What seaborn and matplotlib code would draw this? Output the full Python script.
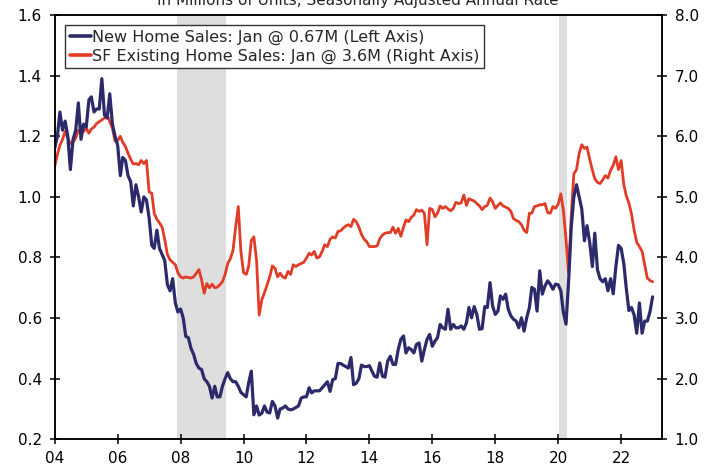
import numpy as np
import pandas as pd
import seaborn as sns
import matplotlib.pyplot as plt
import matplotlib.dates as mdates
from matplotlib.ticker import FormatStrFormatter
from matplotlib.lines import Line2D

# Monthly data, Jan 2004 - Jan 2023 (millions, SAAR)
new_home_sales = [
    1.16, 1.20, 1.28, 1.22, 1.25, 1.20, 1.09, 1.19, 1.22, 1.31, 1.19, 1.24,  # 2004
    1.23, 1.32, 1.33, 1.28, 1.29, 1.29, 1.39, 1.27, 1.26, 1.34, 1.24, 1.20,  # 2005
    1.17, 1.07, 1.13, 1.12, 1.07, 1.05, 0.97, 1.04, 1.00, 0.95, 1.00, 0.99,  # 2006
    0.93, 0.84, 0.83, 0.89, 0.83, 0.81, 0.79, 0.71, 0.69, 0.73, 0.65, 0.62,  # 2007
    0.63, 0.60, 0.54, 0.535, 0.50, 0.48, 0.45, 0.435, 0.43, 0.40, 0.39, 0.375,  # 2008
    0.336, 0.375, 0.34, 0.34, 0.375, 0.40, 0.42, 0.40, 0.39, 0.39, 0.375, 0.355,  # 2009
    0.347, 0.34, 0.386, 0.425, 0.281, 0.31, 0.28, 0.286, 0.31, 0.29, 0.287, 0.325,  # 2010
    0.31, 0.27, 0.30, 0.303, 0.31, 0.30, 0.297, 0.30, 0.305, 0.31, 0.336, 0.34,  # 2011
    0.34, 0.37, 0.353, 0.36, 0.36, 0.36, 0.37, 0.38, 0.39, 0.358, 0.397, 0.40,  # 2012
    0.45, 0.45, 0.445, 0.44, 0.435, 0.47, 0.38, 0.385, 0.40, 0.445, 0.44, 0.44,  # 2013
    0.443, 0.424, 0.408, 0.405, 0.452, 0.408, 0.405, 0.458, 0.474, 0.447, 0.447, 0.496,  # 2014
    0.53, 0.541, 0.485, 0.502, 0.496, 0.485, 0.513, 0.518, 0.458, 0.496, 0.53, 0.546,  # 2015
    0.507, 0.524, 0.535, 0.579, 0.568, 0.563, 0.629, 0.563, 0.579, 0.568, 0.568, 0.574,  # 2016
    0.563, 0.585, 0.635, 0.601, 0.638, 0.612, 0.563, 0.565, 0.638, 0.635, 0.717, 0.64,  # 2017
    0.612, 0.623, 0.673, 0.662, 0.679, 0.629, 0.607, 0.596, 0.59, 0.568, 0.601, 0.557,  # 2018
    0.601, 0.635, 0.701, 0.695, 0.623, 0.756, 0.679, 0.706, 0.723, 0.712, 0.695, 0.712,  # 2019
    0.71, 0.69, 0.62, 0.58, 0.72, 0.90, 1.00, 1.04, 1.00, 0.96, 0.855, 0.905,  # 2020
    0.85, 0.77, 0.88, 0.76, 0.73, 0.72, 0.73, 0.69, 0.73, 0.68, 0.77, 0.84,  # 2021
    0.83, 0.78, 0.70, 0.625, 0.635, 0.61, 0.55, 0.65, 0.55, 0.59, 0.59, 0.62,  # 2022
    0.67,  # 2023
]

sf_existing_sales = [
    5.50, 5.70, 5.85, 5.95, 6.08, 5.97, 5.88, 5.90, 5.97, 6.10, 6.08, 6.08,  # 2004
    6.13, 6.05, 6.12, 6.15, 6.21, 6.24, 6.27, 6.30, 6.35, 6.24, 6.13, 5.92,  # 2005
    5.93, 6.00, 5.90, 5.83, 5.72, 5.62, 5.54, 5.55, 5.53, 5.60, 5.55, 5.60,  # 2006
    5.08, 5.06, 4.73, 4.63, 4.57, 4.50, 4.30, 4.05, 3.96, 3.92, 3.88, 3.75,  # 2007
    3.68, 3.66, 3.68, 3.67, 3.66, 3.68, 3.74, 3.80, 3.63, 3.41, 3.57, 3.50,  # 2008
    3.56, 3.50, 3.51, 3.55, 3.60, 3.72, 3.90, 3.98, 4.12, 4.50, 4.84, 4.10,  # 2009
    3.75, 3.72, 3.85, 4.28, 4.34, 3.95, 3.05, 3.30, 3.42, 3.55, 3.68, 3.86,  # 2010
    3.82, 3.68, 3.74, 3.68, 3.66, 3.77, 3.72, 3.88, 3.85, 3.88, 3.90, 3.92,  # 2011
    3.99, 4.07, 4.04, 4.10, 3.99, 4.01, 4.10, 4.21, 4.18, 4.30, 4.34, 4.32,  # 2012
    4.43, 4.44, 4.48, 4.52, 4.54, 4.51, 4.63, 4.59, 4.50, 4.38, 4.30, 4.26,  # 2013
    4.18, 4.18, 4.18, 4.19, 4.31, 4.37, 4.40, 4.41, 4.41, 4.50, 4.40, 4.48,  # 2014
    4.35, 4.50, 4.62, 4.59, 4.66, 4.70, 4.79, 4.76, 4.78, 4.73, 4.21, 4.81,  # 2015
    4.79, 4.67, 4.73, 4.85, 4.81, 4.84, 4.80, 4.77, 4.81, 4.91, 4.89, 4.90,  # 2016
    5.03, 4.86, 4.97, 4.95, 4.93, 4.89, 4.85, 4.79, 4.84, 4.86, 4.98, 4.92,  # 2017
    4.81, 4.86, 4.90, 4.85, 4.83, 4.81, 4.76, 4.64, 4.61, 4.59, 4.54, 4.45,  # 2018
    4.41, 4.73, 4.73, 4.84, 4.85, 4.87, 4.87, 4.89, 4.74, 4.73, 4.84, 4.81,  # 2019
    4.88, 5.05, 4.78, 4.30, 3.74, 4.70, 5.38, 5.45, 5.72, 5.86, 5.80, 5.82,  # 2020
    5.62, 5.44, 5.30, 5.24, 5.22, 5.28, 5.35, 5.31, 5.44, 5.52, 5.66, 5.45,  # 2021
    5.60, 5.20, 5.02, 4.90, 4.72, 4.45, 4.25, 4.18, 4.10, 3.88, 3.66, 3.62,  # 2022
    3.60,  # 2023
]

recessions = [("2007-11-17", "2009-06-10"), ("2020-01-12", "2020-04-08")]

new_label = "New Home Sales: Jan @ 0.67M (Left Axis)"
sf_label = "SF Existing Home Sales: Jan @ 3.6M (Right Axis)"
subtitle = "In Millions of Units, Seasonally Adjusted Annual Rate"

blue = "#2c2a6b"
red = "#e03c26"

dates = pd.date_range("2004-01-01", periods=len(new_home_sales), freq="MS")
df = pd.DataFrame({"date": dates, "new": new_home_sales, "existing": sf_existing_sales})

sns.set_style("ticks")
plt.rcParams["font.family"] = ["DejaVu Sans"]

fig = plt.figure(figsize=(7.17, 4.71), dpi=100)
ax = fig.add_axes([0.0763, 0.0673, 0.8466, 0.9008])
ax2 = ax.twinx()

# recession shading on the lower (right-axis) layer so both lines sit above it
for start, end in recessions:
    ax2.axvspan(pd.Timestamp(start), pd.Timestamp(end), color="#dedede", lw=0, zorder=0)

sns.lineplot(data=df, x="date", y="existing", ax=ax2, color=red, lw=2.0, legend=False, zorder=2)
sns.lineplot(data=df, x="date", y="new", ax=ax, color=blue, lw=2.3, legend=False)

# blue line drawn above red line
ax.set_zorder(ax2.get_zorder() + 1)
ax.patch.set_visible(False)

ax.set_xlim(pd.Timestamp("2004-01-01"), pd.Timestamp("2023-04-17"))
ax.set_ylim(0.2, 1.6)
ax2.set_ylim(1.0, 8.0)
ax.set_yticks(np.arange(0.2, 1.61, 0.2))
ax2.set_yticks(np.arange(1.0, 8.01, 1.0))
ax.yaxis.set_major_formatter(FormatStrFormatter("%.1f"))
ax2.yaxis.set_major_formatter(FormatStrFormatter("%.1f"))
ax.xaxis.set_major_locator(mdates.YearLocator(2))
ax.xaxis.set_major_formatter(mdates.DateFormatter("%y"))

ax.set_xlabel("")
ax.set_ylabel("")
ax2.set_ylabel("")

for a in (ax, ax2):
    a.tick_params(direction="inout", length=6.5, width=1.1, labelsize=11, colors="black")
    for s in a.spines.values():
        s.set_visible(True)
        s.set_color("black")
        s.set_linewidth(1.1)
ax.tick_params(axis="y", pad=6)
ax.tick_params(axis="x", pad=5)
ax2.tick_params(axis="y", pad=6)

handles = [Line2D([], [], color=blue, lw=2.6), Line2D([], [], color=red, lw=2.6)]
leg = ax.legend(handles, [new_label, sf_label], loc="upper left",
                bbox_to_anchor=(0.017, 0.976), borderaxespad=0, fontsize=11.5,
                handlelength=1.35, handletextpad=0.05, labelspacing=0.2,
                borderpad=0.3, fancybox=False, framealpha=1, edgecolor="#333333")
leg.get_frame().set_linewidth(1.0)

fig.text(0.4995, 0.9904, subtitle, ha="center", va="baseline", fontsize=11)

fig.savefig("out.png", dpi=100)
